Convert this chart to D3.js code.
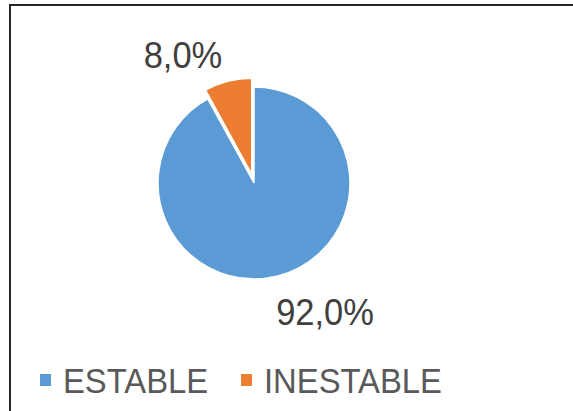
<!DOCTYPE html>
<html>
<head>
<meta charset="utf-8">
<script src="https://cdn.jsdelivr.net/npm/d3@7"></script>
<style>
  html, body { margin: 0; padding: 0; background: #fff; }
  svg { display: block; }
  text { font-family: "Liberation Sans", Arial, sans-serif; }
</style>
</head>
<body>
<svg id="chart" width="573" height="411"></svg>
<script>
const categories = ["ESTABLE", "INESTABLE"];
const values = [92.0, 8.0];
const labels = ["92,0%", "8,0%"];
const colors = ["#5B9BD5", "#ED7D31"];
const exploded = [0, 9];

const svg = d3.select("#chart");

// chart border (right and bottom edges fall outside the window)
svg.append("rect")
  .attr("x", 10).attr("y", 5)
  .attr("width", 700).attr("height", 600)
  .attr("fill", "#fff")
  .attr("stroke", "#262626")
  .attr("stroke-width", 2);

const cx = 254, cy = 183, r = 96;
const g = svg.append("g").attr("transform", `translate(${cx},${cy})`);

const pie = d3.pie().sort(null).value(d => d);
const arcs = pie(values);
const arc = d3.arc().innerRadius(0).outerRadius(r);

g.selectAll("path.slice")
  .data(arcs)
  .join("path")
  .attr("class", "slice")
  .attr("d", arc)
  .attr("fill", (d, i) => colors[i])
  .attr("stroke", "#fff")
  .attr("stroke-width", 1.5)
  .attr("stroke-linejoin", "miter")
  .attr("transform", (d, i) => {
    const a = (d.startAngle + d.endAngle) / 2;
    const e = exploded[i];
    return `translate(${Math.sin(a) * e},${-Math.cos(a) * e})`;
  });

// data labels (best-fit style, rotated a little counter-clockwise from mid angle)
const labelR = 147, labelShift = -14.5 * Math.PI / 180;
g.selectAll("text.lbl")
  .data(arcs)
  .join("text")
  .attr("class", "lbl")
  .attr("transform", d => {
    const a = (d.startAngle + d.endAngle) / 2 + labelShift;
    return `translate(${Math.sin(a) * labelR},${-Math.cos(a) * labelR}) scale(1,1.08)`;
  })
  .attr("dy", "0.36em")
  .attr("text-anchor", "middle")
  .attr("font-size", 34.5)
  .attr("fill", "#404040")
  .text((d, i) => labels[i]);

// legend
const legend = svg.append("g").attr("transform", "translate(40,393)");
const legX = [0, 201];
const items = legend.selectAll("g.item")
  .data(categories)
  .join("g")
  .attr("class", "item")
  .attr("transform", (d, i) => `translate(${legX[i]},0)`);
items.append("rect")
  .attr("x", 0).attr("y", -19)
  .attr("width", 11).attr("height", 12)
  .attr("fill", (d, i) => colors[i]);
items.append("text")
  .attr("transform", "translate(23,0) scale(1,1.07)")
  .attr("font-size", 32.8)
  .attr("fill", "#595959")
  .text(d => d);
</script>
</body>
</html>
